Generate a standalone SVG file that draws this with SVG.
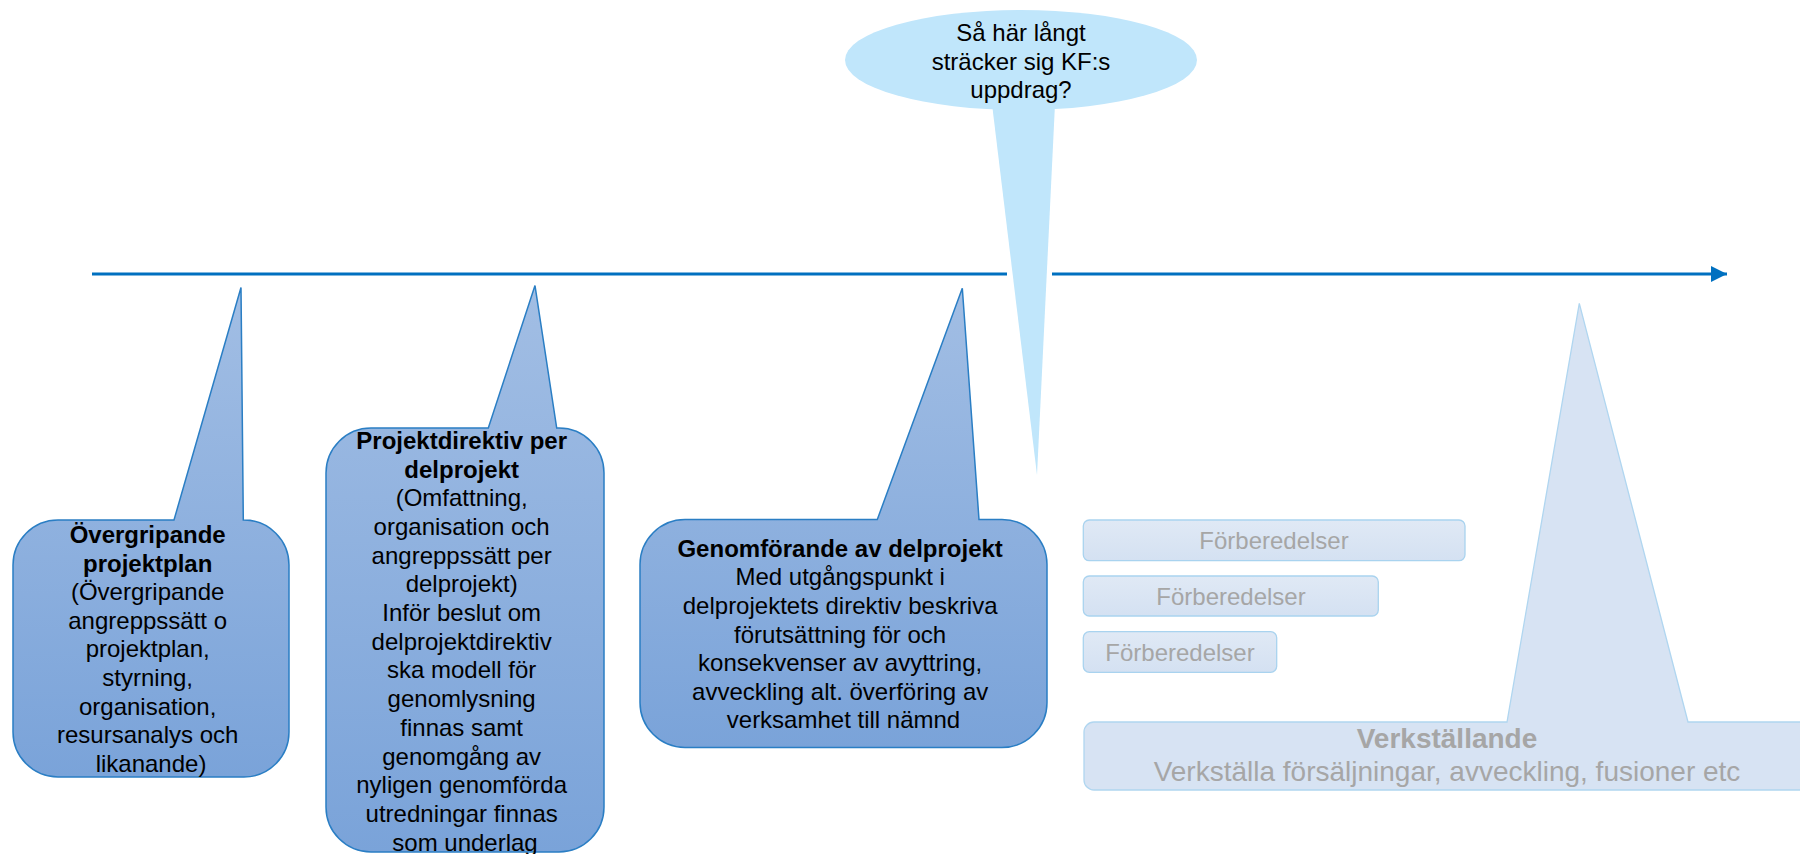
<svg xmlns="http://www.w3.org/2000/svg" width="1800" height="854" viewBox="0 0 1800 854">
<style>
  .t { font-family: "Liberation Sans", Arial, sans-serif; font-size: 24px; fill: #000; text-anchor: middle; }
  .b { font-weight: bold; }
  .g { fill: #A6A6A6; }
  .callout { fill: url(#blueGrad); stroke: #2A7EC4; stroke-width: 1.5; }
  .prep { fill: url(#paleGrad); stroke: #A9D3EF; stroke-width: 1.3; }
  .exec { fill: #D7E3F3; stroke: #B0D6F0; stroke-width: 1.3; }
  .q { fill: #C0E6FB; }
  .axis { stroke: #0070C0; stroke-width: 3; fill: none; }
</style>
<defs>
  <linearGradient id="blueGrad" x1="0" y1="0" x2="0" y2="1">
    <stop offset="0" stop-color="#A2BEE4"/>
    <stop offset="1" stop-color="#7AA3D9"/>
  </linearGradient>
  <linearGradient id="paleGrad" x1="0" y1="0" x2="0" y2="1">
    <stop offset="0" stop-color="#E0E9F5"/>
    <stop offset="1" stop-color="#D4E1F2"/>
  </linearGradient>
  <marker id="arrow" markerUnits="userSpaceOnUse" markerWidth="16" markerHeight="16" refX="16" refY="8" orient="auto">
    <path d="M0,0 L16,8 L0,16 Z" fill="#0070C0"/>
  </marker>
</defs>

<g id="connectors">
  <line class="axis" x1="92" y1="274" x2="1007" y2="274"/>
  <line class="axis" x1="1052" y1="274" x2="1727" y2="274" marker-end="url(#arrow)"/>
</g>

<g id="question">
  <ellipse class="q" cx="1021" cy="60" rx="176" ry="50"/>
  <polygon class="q" points="992,104 1055,104 1037,475"/>
  <text class="t" x="1021" y="40.7">Så här långt<tspan x="1021" dy="28.8">sträcker sig KF:s</tspan><tspan x="1021" dy="28.8">uppdrag?</tspan></text>
</g>

<g id="callout-1">
  <path class="callout" d="M58 520 L174 520 L241 287.5 L243.3 520 L244 520 A45 45 0 0 1 289 565 L289 732 A45 45 0 0 1 244 777 L58 777 A45 45 0 0 1 13 732 L13 565 A45 45 0 0 1 58 520 Z"/>
  <text class="t" x="151" y="543">
    <tspan class="b" x="151">Övergripande</tspan>
    <tspan class="b" x="151" dy="28.6">projektplan</tspan>
    <tspan x="151" dy="28.6">(Övergripande</tspan>
    <tspan x="151" dy="28.6">angreppssätt o</tspan>
    <tspan x="151" dy="28.6">projektplan,</tspan>
    <tspan x="151" dy="28.6">styrning,</tspan>
    <tspan x="151" dy="28.6">organisation,</tspan>
    <tspan x="151" dy="28.6">resursanalys och</tspan>
    <tspan x="151" dy="28.6">likanande)</tspan>
  </text>
</g>

<g id="callout-2">
  <path class="callout" d="M371 428 L488.3 428 L535 285.6 L556.7 428 L559 428 A45 45 0 0 1 604 473 L604 807 A45 45 0 0 1 559 852 L371 852 A45 45 0 0 1 326 807 L326 473 A45 45 0 0 1 371 428 Z"/>
  <text class="t" x="465" y="448.8">
    <tspan class="b" x="465">Projektdirektiv per</tspan>
    <tspan class="b" x="465" dy="28.7">delprojekt</tspan>
    <tspan x="465" dy="28.7">(Omfattning,</tspan>
    <tspan x="465" dy="28.7">organisation och</tspan>
    <tspan x="465" dy="28.7">angreppssätt per</tspan>
    <tspan x="465" dy="28.7">delprojekt)</tspan>
    <tspan x="465" dy="28.7">Inför beslut om</tspan>
    <tspan x="465" dy="28.7">delprojektdirektiv</tspan>
    <tspan x="465" dy="28.7">ska modell för</tspan>
    <tspan x="465" dy="28.7">genomlysning</tspan>
    <tspan x="465" dy="28.7">finnas samt</tspan>
    <tspan x="465" dy="28.7">genomgång av</tspan>
    <tspan x="465" dy="28.7">nyligen genomförda</tspan>
    <tspan x="465" dy="28.7">utredningar finnas</tspan>
    <tspan x="465" dy="28.7">som underlag</tspan>
  </text>
</g>

<g id="callout-3">
  <path class="callout" d="M685 519.5 L877.3 519.5 L962.3 288.3 L979 519.5 L1002 519.5 A45 45 0 0 1 1047 564.5 L1047 702.5 A45 45 0 0 1 1002 747.5 L685 747.5 A45 45 0 0 1 640 702.5 L640 564.5 A45 45 0 0 1 685 519.5 Z"/>
  <text class="t" x="843.5" y="556.7">
    <tspan class="b" x="843.5">Genomförande av delprojekt</tspan>
    <tspan x="843.5" dy="28.6">Med utgångspunkt i</tspan>
    <tspan x="843.5" dy="28.6">delprojektets direktiv beskriva</tspan>
    <tspan x="843.5" dy="28.6">förutsättning för och</tspan>
    <tspan x="843.5" dy="28.6">konsekvenser av avyttring,</tspan>
    <tspan x="843.5" dy="28.6">avveckling alt. överföring av</tspan>
    <tspan x="843.5" dy="28.6">verksamhet till nämnd</tspan>
  </text>
</g>

<g id="prep-1">
  <rect class="prep" x="1083.3" y="520" width="381.7" height="40.7" rx="6"/>
  <text class="t g" x="1274" y="549.3">Förberedelser</text>
</g>
<g id="prep-2">
  <rect class="prep" x="1083.3" y="576" width="295" height="40" rx="6"/>
  <text class="t g" x="1231" y="605">Förberedelser</text>
</g>
<g id="prep-3">
  <rect class="prep" x="1083.3" y="631.7" width="193.4" height="40.6" rx="6"/>
  <text class="t g" x="1180" y="661">Förberedelser</text>
</g>

<g id="execution">
  <path class="exec" d="M1094 722 L1507 722 L1579.3 303.3 L1688 722 L1802 722 A10 10 0 0 1 1812 732 L1812 780 A10 10 0 0 1 1802 790 L1094 790 A10 10 0 0 1 1084 780 L1084 732 A10 10 0 0 1 1094 722 Z"/>
  <text class="t g b" x="1447" y="748.3" style="font-size:28px">Verkställande</text>
  <text class="t g" x="1447" y="780.7" style="font-size:28px">Verkställa försäljningar, avveckling, fusioner etc</text>
</g>
</svg>
